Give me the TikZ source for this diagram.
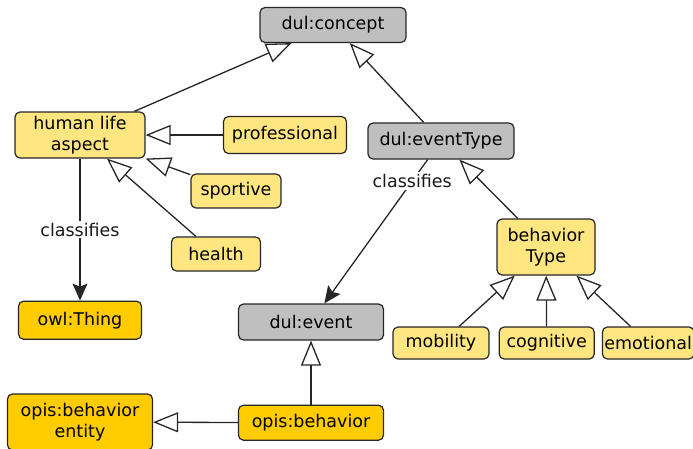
\documentclass[tikz,border=0pt]{standalone}
\usepackage{fontspec}
\setmainfont{DejaVu Sans}
\usetikzlibrary{arrows.meta,positioning}

\definecolor{dulgray}{HTML}{BFBFBF}
\definecolor{lightyel}{HTML}{FFE680}
\definecolor{darkyel}{HTML}{FFCC00}

\tikzset{
  every node/.style={font=\fontsize{17.5}{21}\selectfont},
  box/.style={rectangle, draw=black!85, line width=1.2pt, rounded corners=5pt, align=center, inner sep=2pt},
  dulbox/.style={box, fill=dulgray},
  classbox/.style={box, fill=lightyel},
  opisbox/.style={box, fill=darkyel},
  isa/.style={-{Triangle[open, length=25pt, width=20pt]}, line width=1.3pt, black!85},
  classif/.style={-{Stealth[length=17pt, width=15pt, inset=3pt]}, line width=1.3pt, black!85},
  lbl/.style={fill=white, inner sep=2pt, text=black!90}
}

\begin{document}
\begin{tikzpicture}[x=1pt, y=-1pt, node distance=20pt]
  \useasboundingbox (0,0) rectangle (693,448);

  \node[dulbox, minimum width=146pt, minimum height=35pt] (concept) at (333,25) {dul:concept};
  \node[classbox, minimum width=130pt, minimum height=46pt] (human) at (80,135) {human life\\aspect};
  \node[classbox, minimum width=123pt, minimum height=37pt] (professional) at (285,135) {professional};
  \node[classbox, minimum width=90pt, minimum height=34pt] (sportive) at (236,191) {sportive};
  \node[classbox, minimum width=89pt, minimum height=34pt] (health) at (216,254) {health};
  \node[opisbox, minimum width=123pt, minimum height=38pt, below=142pt of human] (thing) {owl:Thing};

  \node[dulbox, minimum width=146pt, minimum height=36pt] (eventtype) at (441,141) {dul:eventType};
  \node[classbox, minimum width=98pt, minimum height=56pt] (behtype) at (546,247) {behavior\\Type};
  \node[dulbox, minimum width=145pt, minimum height=36pt] (event) at (311,322) {dul:event};
  \node[classbox, minimum width=96pt, minimum height=32pt] (mobility) at (441,343) {mobility};
  \node[classbox, minimum width=95pt, minimum height=32pt, right=9pt of mobility] (cognitive) {cognitive};
  \node[classbox, minimum width=91pt, minimum height=32pt, right=7pt of cognitive] (emotional) {emotional};

  \node[opisbox, minimum width=145pt, minimum height=35pt, below=64pt of event] (behavior) {opis:behavior};
  \node[opisbox, minimum width=145pt, minimum height=56pt] (entity) at (80,422) {opis:behavior\\entity};

  % subclass links
  \draw[isa] (human) -- (concept);
  \draw[isa] (professional) -- (human);
  \draw[isa] (sportive) -- (human);
  \draw[isa] (health) -- (human);
  \draw[isa] (eventtype) -- (concept);
  \draw[isa] (behtype) -- (eventtype);
  \draw[isa] (mobility) -- (behtype);
  \draw[isa] (cognitive) -- (behtype);
  \draw[isa] (emotional) -- (behtype);
  \draw[isa] (behavior) -- (event);
  \draw[isa] (behavior) -- (entity);

  % classifies
  \draw[classif] (human) -- node[lbl] {classifies} (thing);
  \draw[classif] (eventtype) -- node[lbl, pos=0.15] {classifies} (event);
\end{tikzpicture}
\end{document}
